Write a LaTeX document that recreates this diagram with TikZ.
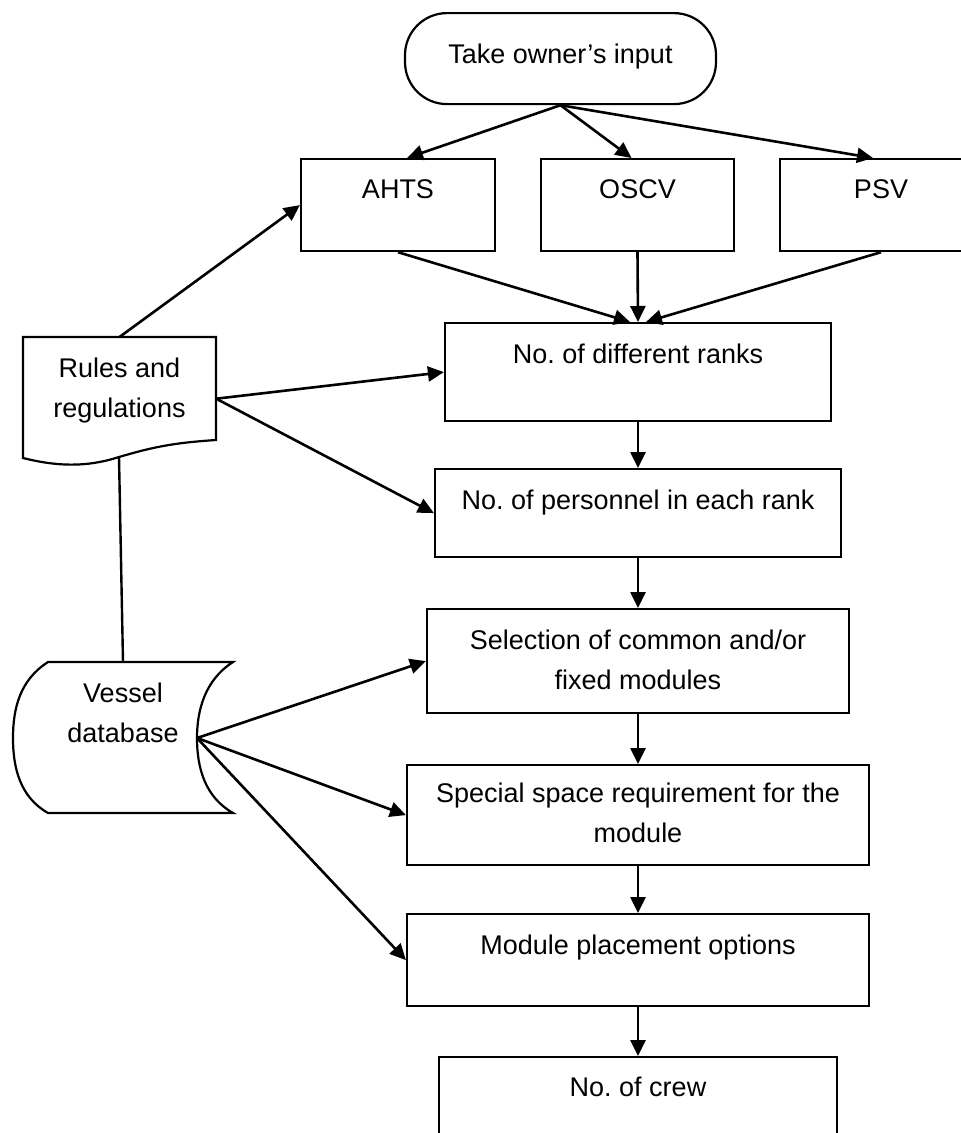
\documentclass[tikz,border=0pt]{standalone}
\usepackage{fontspec}
\setmainfont{Liberation Sans}
\usetikzlibrary{arrows.meta}
\frenchspacing

\tikzset{
  stepbox/.style={draw, line width=2.2pt, inner sep=0pt, anchor=north, fill=white,
    font=\fontsize{27}{40}\selectfont},
  plainbox/.style={inner sep=0pt, anchor=north, font=\fontsize{27}{40}\selectfont},
  flow/.style={-{Triangle[length=16pt,width=15pt]}, line width=2.6pt},
  link/.style={line width=2.4pt},
}
\newcommand{\boxtxt}[1]{\begin{tabular}[t]{@{}c@{}}#1\end{tabular}}

\begin{document}
\begin{tikzpicture}[x=1pt,y=-1pt]
		\useasboundingbox (0,0) rectangle (961,1133);
		\clip (0,0) rectangle (961,1133);
		\fill[white] (0,0) rectangle (961,1133);
		%
		\node[stepbox, rounded corners=42pt, minimum width=311pt, text height=50pt, text depth=41pt] (own) at (560.5,12) {Take owner's input};
		\node[stepbox, minimum width=194pt, text height=39pt, text depth=53pt] (ahts) at (398,158) {AHTS};
		\node[stepbox, minimum width=193pt, text height=39pt, text depth=53pt] (oscv) at (637.5,158) {OSCV};
		\node[stepbox, minimum width=202pt, text height=39pt, text depth=53pt] (psv) at (881,158) {PSV};
		\node[stepbox, minimum width=386pt, text height=40pt, text depth=58pt] (ranks) at (638,322) {No. of different ranks};
		\node[stepbox, minimum width=406pt, text height=40pt, text depth=48pt] (pers) at (638,468) {No. of personnel in each rank};
		\node[stepbox, minimum width=422pt, text height=40pt, text depth=64pt] (sel) at (638,608) {\boxtxt{Selection of common and/or\\ fixed modules}};
		\node[stepbox, minimum width=462pt, text height=37pt, text depth=63pt] (spacereq) at (638,764) {\boxtxt{Special space requirement for the\\ module}};
		\node[stepbox, minimum width=462pt, text height=40pt, text depth=52pt] (place) at (638,913) {Module placement options};
		\node[stepbox, minimum width=398pt, text height=39pt, text depth=90pt] (crew) at (638,1056) {No. of crew};
		%
		\draw[line width=2.2pt, fill=white] (23,337) -- (216,337) -- (216,440) .. controls (170,443) and (150,448) .. (119,457) .. controls (85,468) and (55,466) .. (23,458) -- cycle;
		\node[plainbox, minimum width=193pt, text height=40pt, text depth=83pt] (rules) at (119.5,337) {\boxtxt{Rules and\\ regulations}};
		\draw[line width=2.2pt, fill=white] (48,662) -- (233,662) .. controls (205,680) and (197,710) .. (197,738) .. controls (197,768) and (205,797) .. (233,813) -- (48,813) .. controls (20,797) and (13,768) .. (13,738) .. controls (13,708) and (20,680) .. cycle;
		\node[plainbox, minimum width=220pt, text height=40pt, text depth=111pt] (vessel) at (123,662) {\boxtxt{Vessel\\ database}};
		\coordinate (rbot) at (119,457);
		\coordinate (vport) at (197,738);
		%
		\path[flow]
		(own.south) edge ([xshift=9pt]ahts.north)
		(own.south) edge ([xshift=-6pt]oscv.north)
		(own.south) edge ([xshift=-8pt]psv.north)
		(ahts.south) edge ([xshift=-8pt]ranks.north)
		(oscv.south) edge (ranks.north)
		(psv.south) edge ([xshift=8pt]ranks.north)
		(ranks.south) edge (pers.north)
		(pers.south) edge (sel.north)
		(sel.south) edge (spacereq.north)
		(spacereq.south) edge (place.north)
		(place.south) edge (crew.north)
		(rules.north) edge (ahts.west)
		(rules.east) edge (ranks.west)
		(rules.east) edge (pers.west)
		(vport) edge (sel.west)
		(vport) edge (spacereq.west)
		(vport) edge (place.west);
		\draw[link] (rbot) -- (vessel.north);
\end{tikzpicture}
\end{document}
